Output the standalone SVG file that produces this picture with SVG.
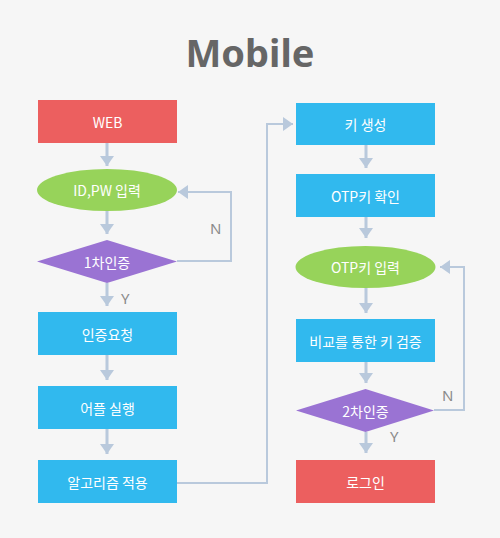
<svg xmlns="http://www.w3.org/2000/svg" width="500" height="538" viewBox="0 0 500 538">
<style>
.t{font-family:"Noto Sans CJK KR","Noto Sans",sans-serif;font-size:14px;fill:#fff;text-anchor:middle;dominant-baseline:central}
.lab{font-family:"Noto Sans","Liberation Sans",sans-serif;font-size:15px;fill:#8a8a8a}
.red{fill:#ec5f5f}.blue{fill:#31b9ee}.green{fill:#97d35a}.purple{fill:#9a73d3}
.v{fill:none;stroke:#b9c9dc;stroke-width:3;marker-end:url(#ah)}
.f{fill:none;stroke:#b9c9dc;stroke-width:2;marker-end:url(#ah)}
</style>
<defs>
<marker id="ah" markerUnits="userSpaceOnUse" markerWidth="12" markerHeight="14" refX="10" refY="7" orient="auto" viewBox="0 0 12 14">
<path d="M0,0 L10,7 L0,14 Z" fill="#b9c9dc"/>
</marker>
</defs>
<rect width="500" height="538" fill="#f6f6f6"/>
<text x="250" y="67" font-family="'Noto Sans','Open Sans',sans-serif" font-size="38" font-weight="bold" fill="#666" text-anchor="middle">Mobile</text>
<g id="connectors">
<path class="v" d="M107,143 V166"/>
<path class="v" d="M107,211 V234"/>
<path class="v" d="M107,283 V306"/>
<path class="v" d="M107,355 V380"/>
<path class="v" d="M107,429 V454"/>
<path class="f" d="M177,261 H231 V192 H178"/>
<path class="f" d="M177,483 H267 V124 H293"/>
<path class="v" d="M366,145 V168"/>
<path class="v" d="M366,217 V238"/>
<path class="v" d="M366,288 V313"/>
<path class="v" d="M366,362 V383"/>
<path class="v" d="M366,432 V453"/>
<path class="f" d="M434,410 H464 V267 H440"/>
<text class="lab" x="210" y="234">N</text>
<text class="lab" x="121" y="304">Y</text>
<text class="lab" x="442" y="401">N</text>
<text class="lab" x="390" y="442">Y</text>
</g>
<g id="web"><rect class="red" x="38" y="100" width="139" height="43"/><text class="t" x="107.5" y="121.5">WEB</text></g>
<g id="idpw"><ellipse class="green" cx="107" cy="190" rx="70" ry="21"/><text class="t" x="107" y="190">ID,PW 입력</text></g>
<g id="auth1"><polygon class="purple" points="37,261.5 107,240 177,261.5 107,283"/><text class="t" x="107" y="261.5">1차인증</text></g>
<g id="req"><rect class="blue" x="38" y="312" width="139" height="43"/><text class="t" x="107.5" y="333.5">인증요청</text></g>
<g id="app"><rect class="blue" x="38" y="386" width="139" height="43"/><text class="t" x="107.5" y="407.5">어플 실행</text></g>
<g id="algo"><rect class="blue" x="38" y="460" width="139" height="43"/><text class="t" x="107.5" y="481.5">알고리즘 적용</text></g>
<g id="keygen"><rect class="blue" x="296" y="103" width="139" height="42"/><text class="t" x="365.5" y="124">키 생성</text></g>
<g id="otpcheck"><rect class="blue" x="296" y="174" width="139" height="43"/><text class="t" x="365.5" y="195.5">OTP키 확인</text></g>
<g id="otpinput"><ellipse class="green" cx="365.5" cy="267" rx="70" ry="21"/><text class="t" x="365.5" y="267">OTP키 입력</text></g>
<g id="verify"><rect class="blue" x="296" y="319" width="139" height="43"/><text class="t" x="365.5" y="340.5">비교를 통한 키 검증</text></g>
<g id="auth2"><polygon class="purple" points="296,410.5 365.5,389 434,410.5 365.5,432"/><text class="t" x="365.5" y="410.5">2차인증</text></g>
<g id="login"><rect class="red" x="296" y="460" width="139" height="43"/><text class="t" x="365.5" y="481.5">로그인</text></g>
</svg>
